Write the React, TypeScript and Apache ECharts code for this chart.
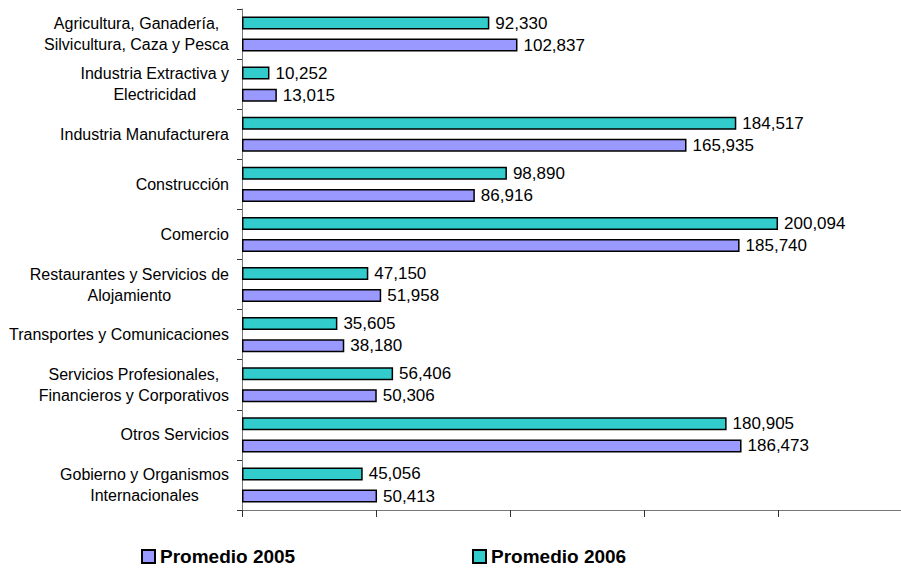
import React, { useEffect, useRef } from "react";
import * as echarts from "echarts";

const categories = [
  "Agricultura, Ganadería,\nSilvicultura, Caza y Pesca",
  "Industria Extractiva y\nElectricidad",
  "Industria Manufacturera",
  "Construcción",
  "Comercio",
  "Restaurantes y Servicios de\nAlojamiento",
  "Transportes y Comunicaciones",
  "Servicios Profesionales,\nFinancieros y Corporativos",
  "Otros Servicios",
  "Gobierno y Organismos\nInternacionales",
];

const promedio2005 = [102837, 13015, 165935, 86916, 185740, 51958, 38180, 50306, 186473, 50413];
const promedio2006 = [92330, 10252, 184517, 98890, 200094, 47150, 35605, 56406, 180905, 45056];

const seriesNames = ["Promedio 2005", "Promedio 2006"];

const fmt = (v: number) => v.toLocaleString("en-US");

export default function App() {
  const ref = useRef<HTMLDivElement>(null);
  useEffect(() => {
    if (!ref.current) return;
    const chart = echarts.init(ref.current, null, { renderer: "svg" });
    const font = "'Liberation Sans', Arial, sans-serif";
    const labelCfg = {
      show: true,
      position: "right",
      distance: 6,
      color: "#000",
      fontFamily: font,
      fontSize: 17,
      formatter: (p: any) => fmt(p.value),
    };
    const legendBase = {
      top: 547,
      padding: 0,
      itemWidth: 13,
      itemHeight: 13,
      itemGap: 5,
      icon: "rect",
      textStyle: { fontSize: 19, fontWeight: "bold", color: "#000", fontFamily: font },
    };
    chart.setOption({
      animation: false,
      backgroundColor: "#fff",
      textStyle: { fontFamily: font },
      grid: { left: 242, right: 0, top: 9, bottom: 60, containLabel: false },
      xAxis: {
        type: "value",
        min: 0,
        max: 246000,
        interval: 50000,
        axisLine: { show: true, lineStyle: { color: "#777", width: 1 } },
        axisTick: { show: true, length: 7, lineStyle: { color: "#333", width: 1 } },
        axisLabel: { show: false },
        splitLine: { show: false },
      },
      yAxis: {
        type: "category",
        inverse: true,
        data: categories,
        axisLine: { show: true, lineStyle: { color: "#777", width: 1 } },
        axisTick: { show: true, length: 5, lineStyle: { color: "#333" } },
        axisLabel: {
          margin: 13,
          color: "#000",
          fontFamily: font,
          fontSize: 16,
          lineHeight: 21,
          formatter: (v: string) =>
            v
              .split("\n")
              .map((l) => `{c|${l}}`)
              .join("\n"),
          rich: {
            c: { align: "center", fontSize: 16, lineHeight: 21, color: "#000", fontFamily: font },
          },
        },
      },
      legend: [
        { ...legendBase, data: [seriesNames[0]], left: 141 },
        { ...legendBase, data: [seriesNames[1]], left: 472 },
      ],
      series: [
        {
          name: seriesNames[1],
          type: "bar",
          data: promedio2006,
          barWidth: 13,
          barGap: "70%",
          itemStyle: { color: "#33CCCC", borderColor: "#000", borderWidth: 1.5 },
          label: labelCfg,
        },
        {
          name: seriesNames[0],
          type: "bar",
          data: promedio2005,
          barWidth: 13,
          barGap: "70%",
          itemStyle: { color: "#9999FF", borderColor: "#000", borderWidth: 1.5 },
          label: labelCfg,
        },
      ],
    });
    return () => chart.dispose();
  }, []);
  return (
    <div
      ref={ref}
      style={{ position: "fixed", left: 0, top: 0, width: 901, height: 570 }}
    />
  );
}
